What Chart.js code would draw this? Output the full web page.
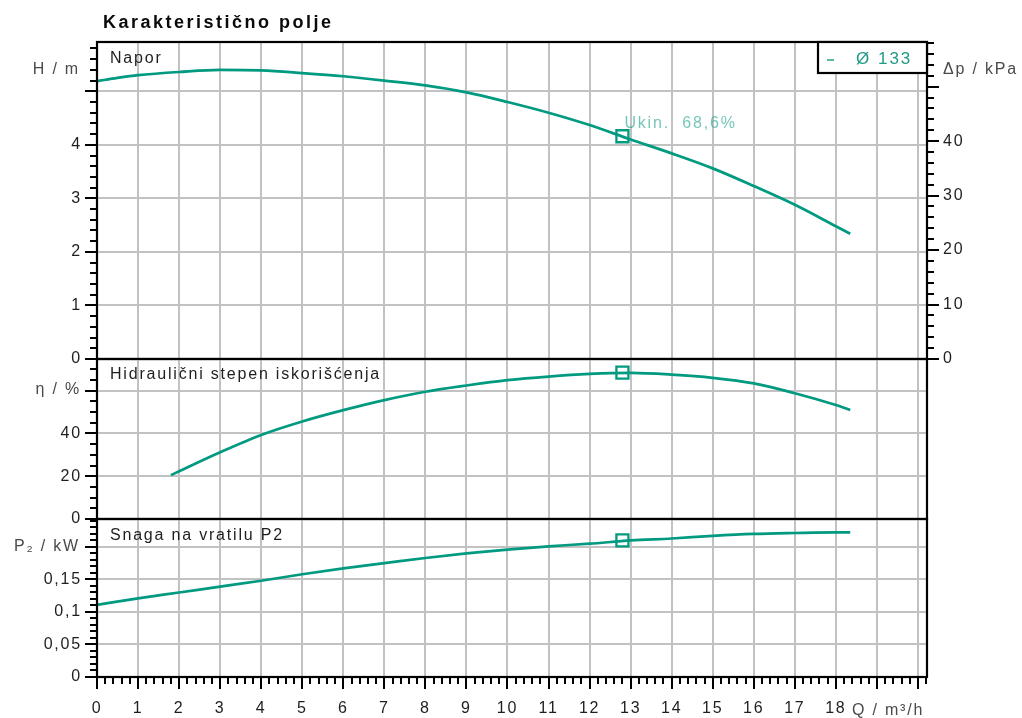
<!DOCTYPE html>
<html><head><meta charset="utf-8">
<script src="https://cdn.jsdelivr.net/npm/chart.js@4.4.0/dist/chart.umd.min.js"></script>
<style>
html,body{margin:0;padding:0;background:#fff;}
#wrap{position:relative;width:1022px;height:718px;overflow:hidden;}
canvas{position:absolute;left:0;top:0;}
</style></head><body>
<div id="wrap">
<canvas id="c1" width="1022" height="718"></canvas>
<canvas id="c2" width="1022" height="718"></canvas>
<canvas id="c3" width="1022" height="718"></canvas>
</div>
<script>
// ---- data ----
const headQ   = [0, 0.5, 1, 2, 3, 4, 5, 6, 7, 8, 9, 10, 11, 12, 13, 14, 15, 16, 17, 18, 18.35];
const headH   = [5.19, 5.25, 5.30, 5.36, 5.40, 5.39, 5.34, 5.28, 5.20, 5.11, 4.98, 4.80, 4.60, 4.37, 4.10, 3.84, 3.56, 3.23, 2.88, 2.48, 2.34];
const effQ    = [1.8, 2, 3, 4, 5, 6, 7, 8, 9, 10, 11, 12, 13, 14, 15, 16, 17, 18, 18.35];
const effEta  = [20.5, 22.3, 31.2, 39.3, 45.6, 50.9, 55.6, 59.5, 62.4, 64.9, 66.6, 67.8, 68.3, 67.5, 66.0, 63.4, 58.8, 53.3, 51.0];
const powQ    = [0, 1, 2, 3, 4, 5, 6, 7, 8, 9, 10, 11, 12, 13, 14, 15, 16, 17, 18, 18.35];
const powP    = [0.111, 0.121, 0.130, 0.139, 0.148, 0.158, 0.167, 0.175, 0.183, 0.190, 0.196, 0.201, 0.205, 0.210, 0.213, 0.217, 0.220, 0.2215, 0.2225, 0.2225];
const dutyQ   = [12.8];
const dutyH   = [4.16];
const dutyEta = [68.4];
const dutyP   = [0.210];
const xTickLabels   = ['0','1','2','3','4','5','6','7','8','9','10','11','12','13','14','15','16','17','18'];
const hTickLabels   = ['0','1','2','3','4'];
const kpaTickLabels = ['0','10','20','30','40'];
const etaTickLabels = ['0','20','40'];
const pTickLabels   = ['0','0,05','0,1','0,15'];

// ---- styling ----
const TEAL = '#009a80';
const GRID = '#c2c2c2';
const FONT = '"Liberation Sans", Arial, sans-serif';
const TICKFONT = {family: FONT, size: 16};
const TICKCOL = '#1e1e1e';
const LS = '1.8px';
const pts = (xs, ys) => xs.map((x, i) => ({x: x, y: ys[i]}));

function lineDs(data, axis) {
  return {data: data, yAxisID: axis, borderColor: TEAL, borderWidth: 2.7, pointRadius: 0,
          cubicInterpolationMode: 'monotone', fill: false};
}
function markDs(data, axis) {
  return {data: data, yAxisID: axis, showLine: false, pointStyle: 'rect', pointRadius: 8.5,
          borderColor: TEAL, backgroundColor: '#fff', pointBorderWidth: 2.3, borderWidth: 2.3};
}
function xScale(showLabels) {
  return {type: 'linear', position: 'bottom', min: 0, max: 20.22,
    ticks: {display: showLabels, stepSize: 1, includeBounds: false, autoSkip: false, maxRotation: 0,
            padding: 22, font: TICKFONT, color: TICKCOL,
            callback: (v) => (Number.isInteger(v) && v < xTickLabels.length) ? xTickLabels[v] : ''},
    grid: {color: GRID, lineWidth: 2, drawTicks: false},
    border: {display: false},
    afterFit: (s) => { s.height = showLabels ? 41 : 0; }};
}
function txt(ctx, s, x, y, opt) {
  ctx.save();
  ctx.font = opt.font || ('16px ' + FONT);
  ctx.fillStyle = opt.color || '#1e1e1e';
  ctx.textAlign = opt.align || 'left';
  ctx.textBaseline = 'alphabetic';
  ctx.letterSpacing = opt.ls || LS;
  ctx.fillText(s, x, y);
  ctx.restore();
}
function frame(chart) {
  const ca = chart.chartArea, ctx = chart.ctx;
  ctx.save(); ctx.strokeStyle = '#000'; ctx.lineWidth = 2.2;
  ctx.strokeRect(ca.left, ca.top, ca.right - ca.left, ca.bottom - ca.top);
  ctx.restore();
}
function tickMarks(chart, specs) {
  const ctx = chart.ctx, ca = chart.chartArea;
  ctx.save(); ctx.strokeStyle = '#000'; ctx.lineWidth = 2;
  specs.forEach(s => {
    const sc = chart.scales[s.id];
    for (let i = 0; i * s.step <= sc.max + 1e-9; i++) {
      const len = (i % s.major === 0) ? 12 : 7;
      const p = Math.round(sc.getPixelForValue(i * s.step));
      ctx.beginPath();
      if (s.side === 'left') { ctx.moveTo(ca.left - len, p); ctx.lineTo(ca.left, p); }
      else if (s.side === 'right') { ctx.moveTo(ca.right, p); ctx.lineTo(ca.right + len, p); }
      else { ctx.moveTo(p, ca.bottom); ctx.lineTo(p, ca.bottom + len); }
      ctx.stroke();
    }
  });
  ctx.restore();
}
const spacing = {id: 'spacing', beforeDraw: (c) => { c.ctx.letterSpacing = LS; }};
const common = {responsive: false, animation: false, devicePixelRatio: 1, events: [],
  plugins: {legend: {display: false}, tooltip: {enabled: false}, title: {display: false}}};

// ---- top panel: head ----
new Chart(document.getElementById('c1'), {
  type: 'line',
  data: {datasets: [lineDs(pts(headQ, headH), 'h'), markDs(pts(dutyQ, dutyH), 'h')]},
  options: Object.assign({}, common, {
    layout: {padding: {top: 42, bottom: 359, left: 0, right: 0}},
    scales: {
      x: xScale(false),
      h: {type: 'linear', position: 'left', min: 0, max: 5.92,
          ticks: {stepSize: 1, includeBounds: false, padding: 15, font: TICKFONT, color: TICKCOL,
                  callback: (v) => hTickLabels[v] !== undefined ? hTickLabels[v] : ''},
          grid: {color: GRID, lineWidth: 2, drawTicks: false}, border: {display: false},
          afterFit: (s) => { s.width = 97; }},
      kpa: {type: 'linear', position: 'right', min: 0, max: 58.2,
          ticks: {stepSize: 10, includeBounds: false, padding: 16, font: TICKFONT, color: TICKCOL,
                  callback: (v) => kpaTickLabels[v / 10] !== undefined ? kpaTickLabels[v / 10] : ''},
          grid: {display: false, drawTicks: false}, border: {display: false},
          afterFit: (s) => { s.width = 95; }}
    }
  }),
  plugins: [spacing, {id: 'deco1', afterDraw: (c) => {
    const ctx = c.ctx, ca = c.chartArea;
    frame(c);
    tickMarks(c, [{id: 'h', side: 'left', step: 0.2, major: 5}, {id: 'kpa', side: 'right', step: 2, major: 5}]);
    txt(ctx, 'Karakteristično polje', 103, 28, {font: 'bold 18px ' + FONT, color: '#0a0a0a', ls: '2.5px'});
    txt(ctx, 'Napor', ca.left + 13, ca.top + 21, {});
    txt(ctx, 'H / m', 80, 74, {color: '#4a4a4a', align: 'right'});
    txt(ctx, 'Δp / kPa', ca.right + 16, 74, {color: '#4a4a4a'});
    // legend box
    ctx.save();
    ctx.fillStyle = '#fff'; ctx.fillRect(ca.right - 109, ca.top, 109, 31);
    ctx.strokeStyle = '#000'; ctx.lineWidth = 2.2; ctx.strokeRect(ca.right - 109, ca.top, 109, 31);
    ctx.strokeStyle = '#5fb8a6'; ctx.lineWidth = 2;
    ctx.beginPath(); ctx.moveTo(ca.right - 100, ca.top + 18); ctx.lineTo(ca.right - 93, ca.top + 18); ctx.stroke();
    ctx.restore();
    txt(ctx, 'Ø 133', ca.right - 71, ca.top + 22, {color: '#1f9a84', font: '17px ' + FONT, ls: '2px'});
    // duty point annotation
    const px = c.scales.x.getPixelForValue(dutyQ[0]);
    txt(ctx, 'Ukin.  68,6%', px + 2, 128, {color: 'rgba(0,150,125,0.55)'});
  }}]
});

// ---- middle panel: efficiency ----
new Chart(document.getElementById('c2'), {
  type: 'line',
  data: {datasets: [lineDs(pts(effQ, effEta), 'eta'), markDs(pts(dutyQ, dutyEta), 'eta')]},
  options: Object.assign({}, common, {
    layout: {padding: {top: 359, bottom: 199, left: 0, right: 95}},
    scales: {
      x: xScale(false),
      eta: {type: 'linear', position: 'left', min: 0, max: 74.8,
          ticks: {stepSize: 20, includeBounds: false, padding: 15, font: TICKFONT, color: TICKCOL,
                  callback: (v) => etaTickLabels[v / 20] !== undefined ? etaTickLabels[v / 20] : ''},
          grid: {color: GRID, lineWidth: 2, drawTicks: false}, border: {display: false},
          afterFit: (s) => { s.width = 97; }}
    }
  }),
  plugins: [spacing, {id: 'deco2', afterDraw: (c) => {
    const ctx = c.ctx, ca = c.chartArea;
    frame(c);
    tickMarks(c, [{id: 'eta', side: 'left', step: 5, major: 4}]);
    txt(ctx, 'Hidraulični stepen iskorišćenja', ca.left + 13, ca.top + 20, {});
    txt(ctx, 'η / %', 81, 394, {color: '#4a4a4a', align: 'right'});
  }}]
});

// ---- bottom panel: shaft power ----
new Chart(document.getElementById('c3'), {
  type: 'line',
  data: {datasets: [lineDs(pts(powQ, powP), 'p'), markDs(pts(dutyQ, dutyP), 'p')]},
  options: Object.assign({}, common, {
    layout: {padding: {top: 519, bottom: 0, left: 0, right: 95}},
    scales: {
      x: xScale(true),
      p: {type: 'linear', position: 'left', min: 0, max: 0.243,
          ticks: {stepSize: 0.05, includeBounds: false, padding: 15, font: TICKFONT, color: TICKCOL,
                  callback: (v) => { const k = Math.round(v / 0.05); return pTickLabels[k] !== undefined ? pTickLabels[k] : ''; }},
          grid: {color: GRID, lineWidth: 2, drawTicks: false}, border: {display: false},
          afterFit: (s) => { s.width = 97; }}
    }
  }),
  plugins: [spacing, {id: 'deco3', afterDraw: (c) => {
    const ctx = c.ctx, ca = c.chartArea;
    frame(c);
    tickMarks(c, [{id: 'p', side: 'left', step: 0.01, major: 5}, {id: 'x', side: 'bottom', step: 0.2, major: 5}]);
    txt(ctx, 'Snaga na vratilu P2', ca.left + 13, ca.top + 21, {});
    txt(ctx, 'P₂ / kW', 80, 551, {color: '#4a4a4a', align: 'right'});
    txt(ctx, 'Q / m³/h', 852, 715, {color: '#4a4a4a'});
  }}]
});
</script>
</body></html>
